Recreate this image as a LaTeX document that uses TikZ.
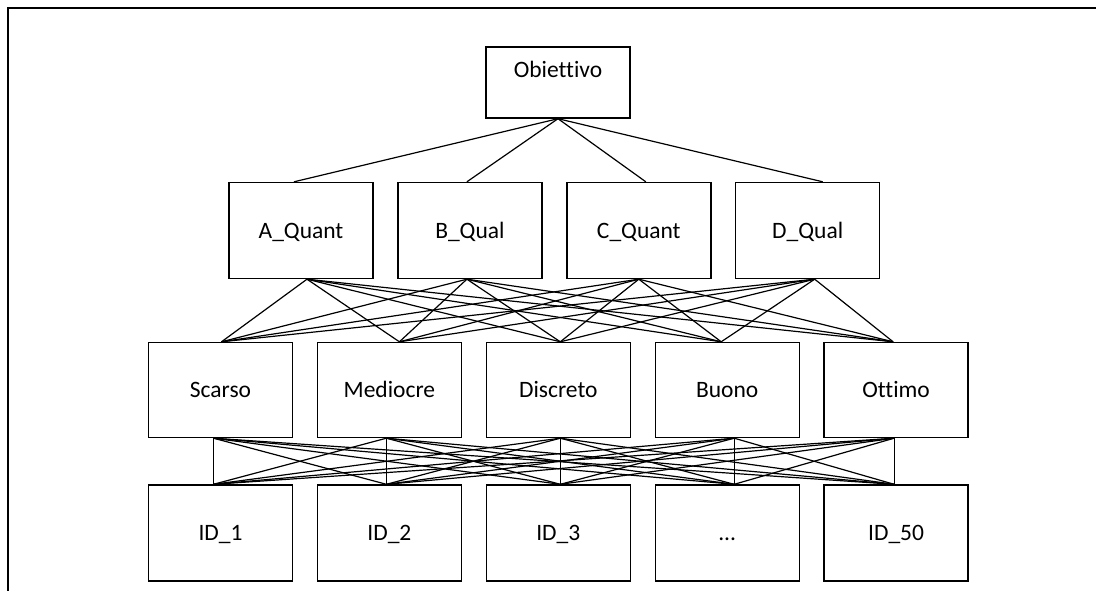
\documentclass[tikz,border=0pt]{standalone}
\usepackage{fontspec}
\setmainfont{Carlito}[Ligatures=NoCommon]
\usetikzlibrary{positioning}
\tikzset{
  hbox/.style={draw, line width=1.4pt, minimum width=144pt, minimum height=96pt, inner sep=0pt,
    text height=15pt, text depth=0pt, font=\fontsize{23.5}{28}\selectfont},
  hlink/.style={line width=1.2pt},
  hframe/.style={line width=2.8pt}
}
\begin{document}
\begin{tikzpicture}[x=1pt, y=-1pt, node distance=23.5pt]
\useasboundingbox (0,0) rectangle (1096,591);
\draw[hframe] (8,591) -- (8,8) -- (1096,8);
% goal
\node[hbox, minimum height=71pt, text depth=24pt] (goal) at (558,82.5) {Obiettivo};
% criteria
\node[hbox] (qa) at (301,230.5) {A\_Quant};
\node[hbox, right=of qa] (qb) {B\_Qual};
\node[hbox, right=of qb] (qc) {C\_Quant};
\node[hbox, right=of qc] (qd) {D\_Qual};
% judgement levels
\node[hbox, minimum height=95pt] (scarso) at (220.5,390) {Scarso};
\node[hbox, minimum height=95pt, right=of scarso] (mediocre) {Mediocre};
\node[hbox, minimum height=95pt, right=of mediocre] (discreto) {Discreto};
\node[hbox, minimum height=95pt, right=of discreto] (buono) {Buono};
\node[hbox, minimum height=95pt, right=of buono] (ottimo) {Ottimo};
% alternatives
\node[hbox] (id1) at (220.5,533) {ID\_1};
\node[hbox, right=of id1] (id2) {ID\_2};
\node[hbox, right=of id2] (id3) {ID\_3};
\node[hbox, right=of id3] (iddots) {.{}.{}.};
\node[hbox, right=of iddots] (id50) {ID\_50};
% connector ends
\foreach \n/\t/\b in {qa/-7/6, qb/-3/-3, qc/7/0, qd/15/7,
    scarso/1/-7, mediocre/10/-3, discreto/2/2, buono/-6/7, ottimo/-3/-2,
    id1/-7/0, id2/-3/0, id3/2/0, iddots/7/0, id50/-2/0} {
  \coordinate (\n-t) at ([xshift=\t pt]\n.north);
  \coordinate (\n-b) at ([xshift=\b pt]\n.south);
}
\foreach \n in {qa,qb,qc,qd}
  \draw[hlink] (goal.south) -- (\n-t);
\foreach \u in {qa,qb,qc,qd}
  \foreach \v in {scarso,mediocre,discreto,buono,ottimo}
    \draw[hlink] (\u-b) -- (\v-t);
\foreach \u in {scarso,mediocre,discreto,buono,ottimo}
  \foreach \v in {id1,id2,id3,iddots,id50}
    \draw[hlink] (\u-b) -- (\v-t);
\end{tikzpicture}
\end{document}
